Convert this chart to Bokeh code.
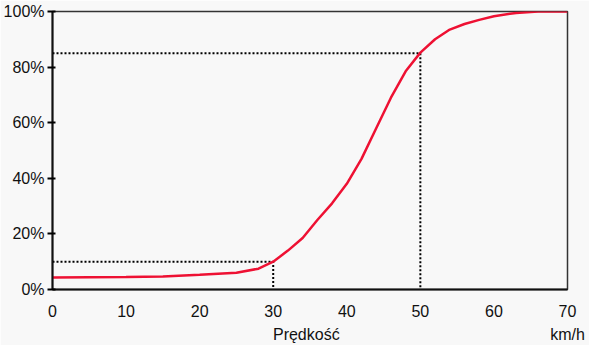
from bokeh.plotting import figure
from bokeh.models import Range1d, FixedTicker, PrintfTickFormatter, LinearAxis
from bokeh.embed import file_html
from bokeh.resources import INLINE

speed = [0, 5, 10, 15, 20, 25, 28, 30, 32, 34, 36, 38, 40, 42, 44, 46, 48, 50, 52, 54, 56, 58, 60, 63, 66, 70]
percent = [4.3, 4.4, 4.5, 4.7, 5.3, 6.0, 7.5, 10.0, 14.0, 18.5, 25.0, 31.0, 38.0, 47.0, 58.0, 69.0, 78.5, 85.2, 90.0, 93.5, 95.5, 97.0, 98.3, 99.5, 100.0, 100.0]

ref_speed_low = 30
ref_pct_low = 10
ref_speed_high = 50
ref_pct_high = 85

x_ticks = [0, 10, 20, 30, 40, 50, 60, 70]
y_ticks = [0, 20, 40, 60, 80, 100]
axis_title = "Prędkość"
unit_label = "km/h"

FONT = "Liberation Sans"
BG = "#f8f8f8"
TXT = "#111111"

p = figure(width=589, height=345, output_backend="svg", toolbar_location=None,
           x_range=Range1d(0, 70), y_range=Range1d(0, 100),
           min_border_left=51, min_border_right=22, min_border_top=11, min_border_bottom=10)
p.background_fill_color = BG
p.border_fill_color = BG
p.outline_line_color = "#333333"
p.outline_line_width = 1.5
p.xgrid.visible = False
p.ygrid.visible = False

# reference dotted lines
p.line([0, ref_speed_low, ref_speed_low], [ref_pct_low, ref_pct_low, 0],
       line_color="black", line_width=2, line_dash="2 2")
p.line([0, ref_speed_high, ref_speed_high], [ref_pct_high, ref_pct_high, 0],
       line_color="black", line_width=2, line_dash="2 2")

p.line(speed, percent, line_color="#ee1133", line_width=2.5)

xa = p.xaxis[0]
xa.ticker = FixedTicker(ticks=x_ticks)
xa.major_tick_in = 0
xa.major_tick_out = 0
xa.minor_tick_in = 0
xa.minor_tick_out = 0
xa.axis_line_width = 2
xa.axis_line_color = TXT
xa.major_label_standoff = 15
xa.major_label_text_font = FONT
xa.major_label_text_font_size = "16px"
xa.major_label_text_color = TXT

# second axis below carrying the title and the unit
title_pos = 34.5
unit_pos = 70
xa2 = LinearAxis(ticker=FixedTicker(ticks=[title_pos, unit_pos]),
                 major_label_overrides={title_pos: axis_title, unit_pos: unit_label},
                 axis_line_color=None, major_tick_line_color=None, minor_tick_line_color=None,
                 major_tick_in=0, major_tick_out=0, minor_tick_in=0, minor_tick_out=0,
                 major_label_standoff=6, major_label_text_font=FONT,
                 major_label_text_font_size="16px", major_label_text_color=TXT)
p.add_layout(xa2, "below")

ya = p.yaxis[0]
ya.ticker = FixedTicker(ticks=y_ticks)
ya.formatter = PrintfTickFormatter(format="%d%%")
ya.major_tick_in = 3
ya.major_tick_out = 5
ya.minor_tick_in = 0
ya.minor_tick_out = 0
ya.axis_line_width = 2
ya.axis_line_color = TXT
ya.major_tick_line_width = 2
ya.major_label_standoff = 3
ya.major_label_text_font = FONT
ya.major_label_text_font_size = "16px"
ya.major_label_text_color = TXT

open("out.html", "w").write(file_html(p, INLINE))
